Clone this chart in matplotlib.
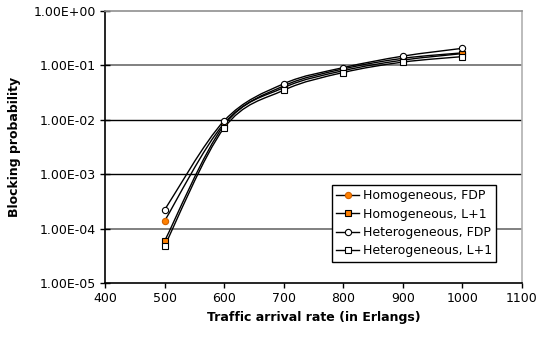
import numpy as np
import matplotlib.pyplot as plt
from matplotlib.path import Path
from matplotlib.patches import PathPatch

# traffic arrival rate (Erlangs)
rate = [500, 600, 700, 800, 900, 1000]

# blocking probability
homo_fdp = [1.38e-4, 8.6e-3, 0.042, 0.086, 0.135, 0.17]
homo_l1 = [5.9e-5, 8.0e-3, 0.039, 0.080, 0.125, 0.165]
hetero_fdp = [2.2e-4, 9.6e-3, 0.046, 0.091, 0.148, 0.206]
hetero_l1 = [4.8e-5, 7.1e-3, 0.035, 0.074, 0.115, 0.145]

yticks = [1e-5, 1e-4, 1e-3, 1e-2, 1e-1, 1e0]
ytick_labels = ["1.00E-05", "1.00E-04", "1.00E-03", "1.00E-02", "1.00E-01", "1.00E+00"]
xticks = [400, 500, 600, 700, 800, 900, 1000, 1100]

orange = "#FF8000"


def smooth_line(ax, xs, ys, **kw):
    # Excel-style smoothed line: cubic Bezier through the points,
    # control points built in (x, log10 y) space
    xs = np.asarray(xs, float)
    ly = np.log10(np.asarray(ys, float))
    pts = np.column_stack([xs, ly])
    n = len(pts)
    verts = [pts[0]]
    codes = [Path.MOVETO]
    for i in range(n - 1):
        p0 = pts[max(i - 1, 0)]
        p1 = pts[i]
        p2 = pts[i + 1]
        p3 = pts[min(i + 2, n - 1)]
        c1 = p1 + (p2 - p0) / 6
        c2 = p2 - (p3 - p1) / 6
        verts += [c1, c2, p2]
        codes += [Path.CURVE4] * 3
    verts = np.array(verts)
    verts[:, 1] = 10 ** verts[:, 1]
    ax.add_patch(PathPatch(Path(verts, codes), fill=False, **kw))


fig = plt.figure(figsize=(5.39, 3.39), dpi=100)
ax = fig.add_axes([105 / 539, 56 / 339, 417 / 539, 272 / 339])

# gridlines (some render grey in the original due to anti-aliasing)
grid_cols = {1e-4: "#808080", 1e-3: "black", 1e-2: "black", 1e-1: "#808080"}
for yv, c in grid_cols.items():
    ax.axhline(yv, color=c, lw=1.0 if c == "black" else 1.4, zorder=1)

series = [
    (homo_fdp, "o", 4.5, orange, "#D06000", "Homogeneous, FDP"),
    (homo_l1, "s", 5, orange, "black", "Homogeneous, L+1"),
    (hetero_fdp, "o", 4.5, "white", "black", "Heterogeneous, FDP"),
    (hetero_l1, "s", 5, "white", "black", "Heterogeneous, L+1"),
]
for ys, mk, ms, fc, ec, lab in series:
    smooth_line(ax, rate, ys, edgecolor="black", lw=1, zorder=2)
    ax.plot(rate, ys, linestyle="none", marker=mk, ms=ms, mfc=fc, mec=ec,
            mew=0.8, zorder=3)
    # legend proxy
    ax.plot([], [], "-", color="black", lw=1, marker=mk, ms=ms, mfc=fc,
            mec=ec, mew=0.8, label=lab)

ax.set_yscale("log")
ax.set_ylim(1e-5, 1e0)
ax.set_xlim(400, 1100)
ax.set_yticks(yticks)
ax.set_yticklabels(ytick_labels)
ax.minorticks_off()
ax.set_xticks(xticks)

ax.tick_params(axis="y", direction="inout", length=7, width=1, labelsize=9, pad=3)
ax.tick_params(axis="x", direction="out", length=3.5, width=1, labelsize=9, pad=3)

ax.spines["left"].set_color("black")
ax.spines["bottom"].set_color("black")
ax.spines["top"].set_color("#909090")
ax.spines["right"].set_color("#b0b0b0")
for s in ax.spines.values():
    s.set_linewidth(1.2)

ax.set_xlabel("Traffic arrival rate (in Erlangs)", fontsize=9, fontweight="bold", labelpad=4)
ax.set_ylabel("Blocking probability", fontsize=9, fontweight="bold", labelpad=9)

leg = ax.legend(loc="upper left", bbox_to_anchor=(332 / 539, 1 - 185 / 339),
                bbox_transform=fig.transFigure, fontsize=9, frameon=True,
                fancybox=False, borderpad=0.35, labelspacing=0.42,
                handlelength=1.8, handletextpad=0.3, borderaxespad=0)
leg.get_frame().set_edgecolor("black")
leg.get_frame().set_linewidth(1)
leg.get_frame().set_alpha(1)

fig.savefig("out.png", dpi=100)
